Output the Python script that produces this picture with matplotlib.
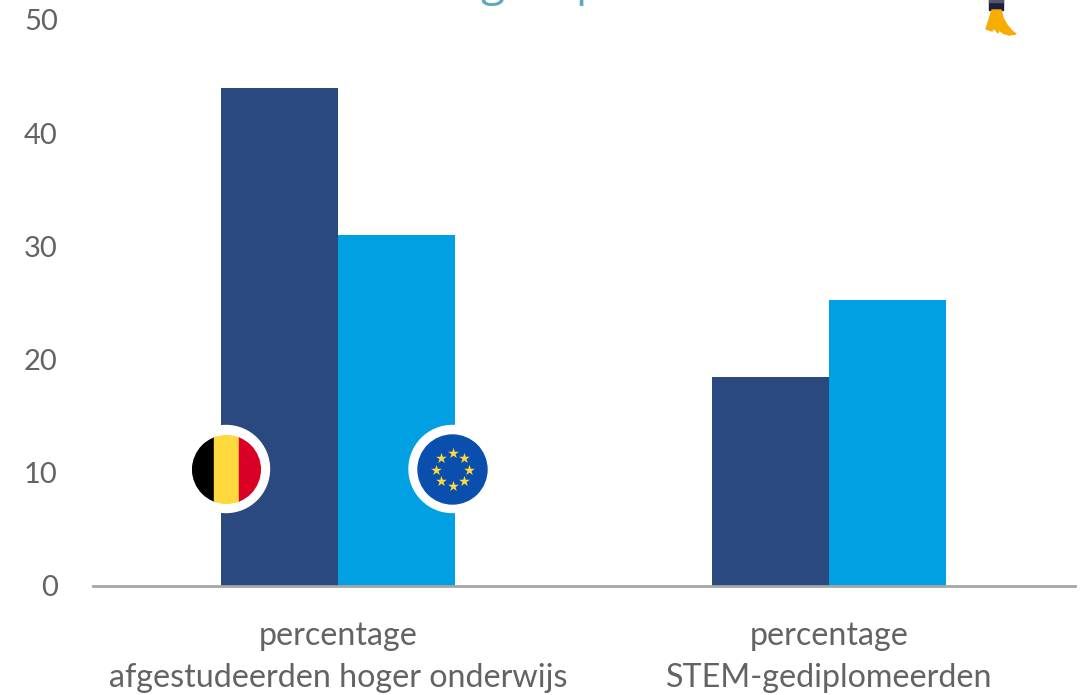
import numpy as np
import matplotlib
matplotlib.use("Agg")
import matplotlib.pyplot as plt
from matplotlib.patches import Circle, Polygon, Rectangle

plt.rcParams["font.family"] = ["Lato", "DejaVu Sans"]

# Data
categories = ["percentage\nafgestudeerden hoger onderwijs", "percentage\nSTEM-gediplomeerden"]
belgie = [44, 18.5]
eu = [31, 25.3]
yticks = [0, 10, 20, 30, 40, 50]

W, H = 1080, 695
colorBE = "#2A4A7F"
colorEU = "#00A0E3"
textColor = "#636363"

fig = plt.figure(figsize=(W/100, H/100), dpi=100)
ax = fig.add_axes([92.5/W, 1-586/H, 982/W, 566/H])

x = np.arange(len(categories))
barWidth = 0.238
ax.bar(x-barWidth/2, belgie, barWidth, color=colorBE)
ax.bar(x+barWidth/2, eu, barWidth, color=colorEU)

ax.set_xlim(-0.5, 1.5)
ax.set_ylim(0, 50)
ax.set_xticks(x)
ax.set_xticklabels(categories, fontsize=23.2, color=textColor, linespacing=1.5)
ax.set_yticks(yticks)
ax.tick_params(axis="y", length=0, labelsize=21, labelcolor=textColor, pad=25)
ax.tick_params(axis="x", length=0, pad=25)
for s in ["top", "right", "left"]:
    ax.spines[s].set_visible(False)
ax.spines["bottom"].set_color("#A6A6A6")
ax.spines["bottom"].set_linewidth(2)

# ================ Overlay in pixels (flags, rocket, cut off title) ================ #
ov = fig.add_axes([0, 0, 1, 1], facecolor="none")
ov.set_xlim(0, W)
ov.set_ylim(H, 0)
ov.axis("off")

# Belgian flag
ov.add_patch(Circle((226, 469), 43.5, color="white", zorder=2))
clip = Circle((226.5, 469.5), 34.5, transform=ov.transData)
for x0, x1, c in [(192, 214, "black"), (214, 239, "#FFD83D"), (239, 262, "#D90026")]:
    r = Rectangle((x0, 430), x1-x0, 80, color=c, zorder=3)
    ov.add_patch(r)
    r.set_clip_path(clip)

# EU flag
ov.add_patch(Circle((452.5, 469), 43.5, color="white", zorder=2))
ov.add_patch(Circle((452.5, 469.5), 34.5, color="#0A4FAE", zorder=3))
ang = np.deg2rad(np.arange(0, 360, 45))
ov.scatter(452.5+16.5*np.cos(ang), 469.5+16.5*np.sin(ang), marker="*", s=65, color="#FFD83D", linewidths=0, zorder=4)

# Rocket bottom
ov.add_patch(Rectangle((989, 0), 14, 10, color="#1F1F3F", zorder=3))
ov.add_patch(Rectangle((989, 0), 14, 2, color="#55556F", zorder=3))
ov.add_patch(Polygon([(992, 10), (1001, 10), (1003, 18), (1007, 25), (1012, 31), (1016, 34),
                      (1009, 35), (1003, 33), (999, 30), (998, 33), (994, 28), (992, 31),
                      (986, 29), (989, 20)],
                     color="#F7AC00", zorder=3))

# Title cut off by the top edge
ov.text(492, -5, "g", fontsize=32, family="Open Sans", color="#5FA8BF", ha="center", va="baseline")
ov.text(575, -5, "p", fontsize=32, family="Open Sans", color="#5FA8BF", ha="left", va="baseline")

fig.savefig("out.png", dpi=100)
